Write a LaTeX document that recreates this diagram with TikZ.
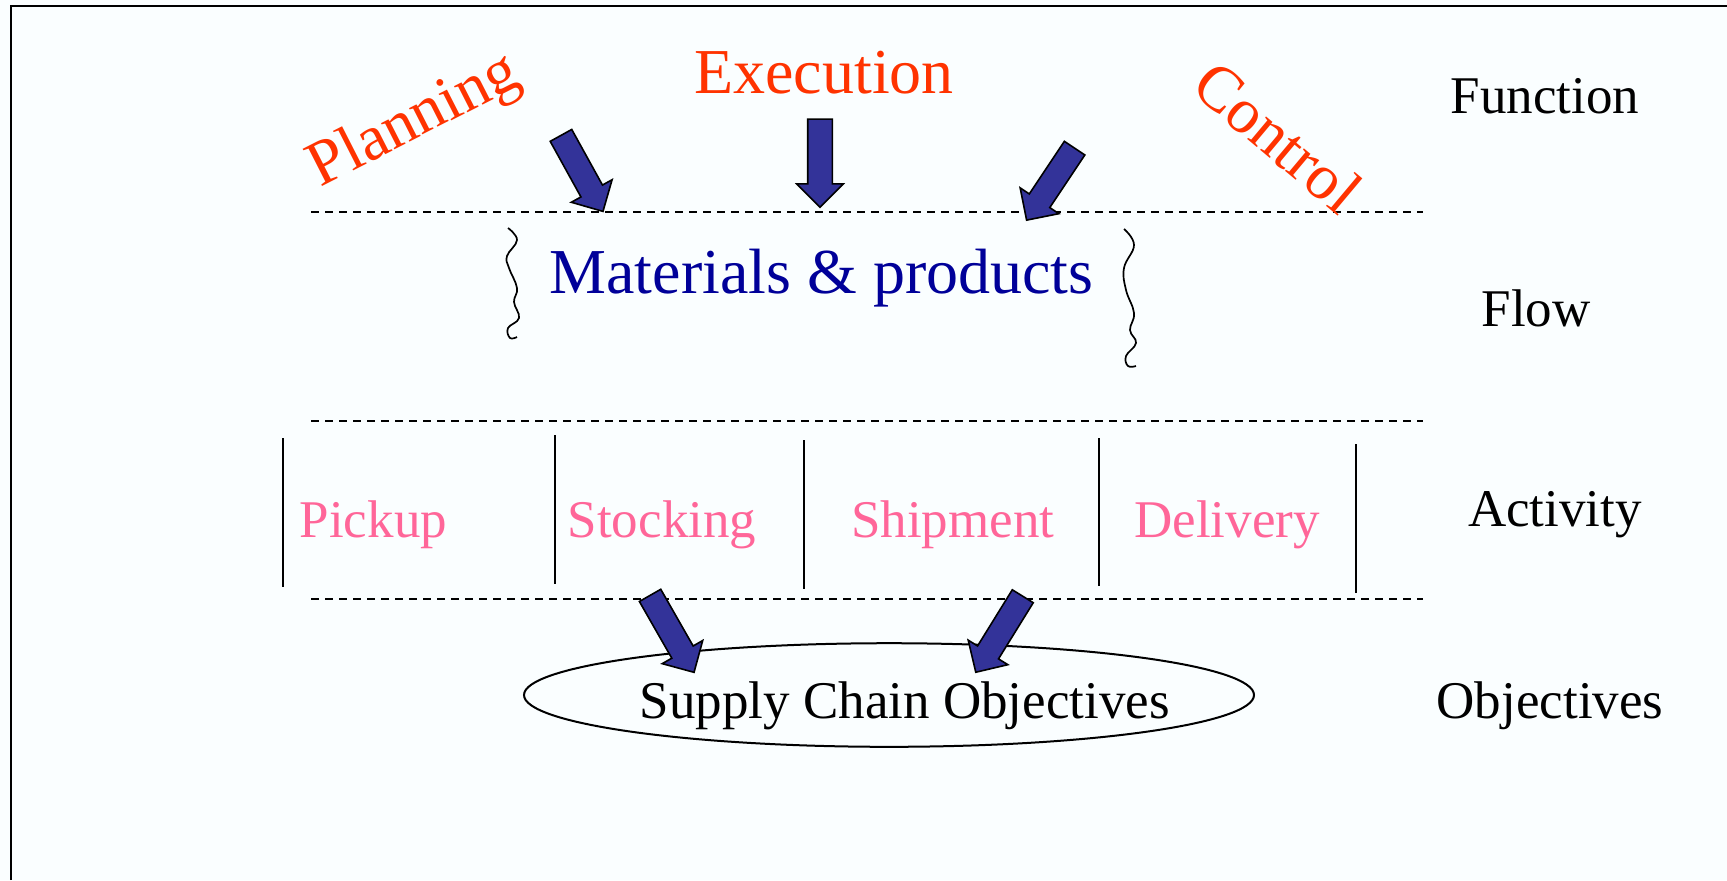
\documentclass[tikz,border=0pt]{standalone}
\usepackage{fontspec}
\setmainfont{Liberation Serif}
\usetikzlibrary{shapes.arrows,shapes.geometric,calc}
\definecolor{bgc}{RGB}{250,254,255}
\definecolor{redtxt}{RGB}{255,51,0}
\definecolor{bluetxt}{RGB}{0,0,153}
\definecolor{pinktxt}{RGB}{255,102,153}
\definecolor{arrowblue}{RGB}{51,51,153}
\tikzset{
 func/.style={text=redtxt, font=\fontsize{32}{38}\selectfont, inner sep=0pt},
 lbl/.style={font=\fontsize{26.5}{32}\selectfont, inner sep=0pt, anchor=base},
 act/.style={lbl, text=pinktxt},
 divider/.style={dash pattern=on 4pt off 3pt, line width=0.9pt},
 sepline/.style={line width=1pt},
 squiggle/.style={line width=0.85pt},
 blockarr/.style={single arrow, draw=black, fill=arrowblue, line width=0.8pt,
   inner xsep=0pt, inner ysep=5.75pt, minimum width=22.5pt,
   single arrow head extend=5.5pt, single arrow head indent=0pt},
}
\newcommand{\blkarrow}[3]{%
 \path let \p1=($(#3)-(#2)$), \n1={atan2(\y1,\x1)}, \n2={veclen(\x1,\y1)} in
   node[blockarr, rotate=\n1, minimum height=\n2] (#1) at ($(#2)!0.5!(#3)$) {};
}
\begin{document}
\begin{tikzpicture}[x=0.5pt,y=-0.5pt]
\useasboundingbox (0,0) rectangle (1727,880);
\fill[bgc] (0,0) rectangle (1727,880);
\draw[line width=1pt] (11,880) -- (11,6) -- (1727,6);

% dashed dividers
\coordinate (d1l) at (311,212); \coordinate (d1r) at (1423,212);
\coordinate (d2l) at (311,421); \coordinate (d2r) at (1423,421);
\coordinate (d3l) at (311,599); \coordinate (d3r) at (1423,599);
\draw[divider] (d1l) -- (d1r);
\draw[divider] (d2l) -- (d2r);
\draw[divider] (d3l) -- (d3r);

% function words
\node[func, rotate=27] (plan) at (415,122) {Planning};
\node[func, anchor=base] (exec) at (824,93.6) {Execution};
\node[func, rotate=-40] (ctrl) at (1278,137) {Control};

% right labels
\node[lbl] (lfun) at (1545,113) {Function};
\node[lbl] (lflow) at (1536,326) {Flow};
\node[lbl] (lact) at (1555,526.5) {Activity};
\node[lbl] (lobj) at (1550,718) {Objectives};

% flow
\node[lbl, font=\fontsize{32}{38}\selectfont, text=bluetxt] (mat) at (821.6,293) {Materials \& products};
\draw[squiggle] plot[smooth, tension=0.7] coordinates {(508,228) (517,240) (507,256) (509,268) (517,288) (514,302) (519,318) (508,328) (510,338) (517,337)};
\draw[squiggle] plot[smooth, tension=0.7] coordinates {(1124,229) (1134,245) (1124,268) (1126,290) (1134,313) (1130,330) (1136,343) (1126,356) (1128,366) (1136,366)};

% activities
\node[act] (pick) at (373.4,537.5) {Pickup};
\node[act] (stock) at (662,537.5) {Stocking};
\node[act] (ship) at (952.7,537.5) {Shipment};
\node[act] (deliv) at (1227,537.5) {Delivery};
\coordinate (s1t) at (283,438); \coordinate (s1b) at (283,587);
\coordinate (s2t) at (555,435); \coordinate (s2b) at (555,584);
\coordinate (s3t) at (804,440); \coordinate (s3b) at (804,589);
\coordinate (s4t) at (1099,438); \coordinate (s4b) at (1099,586);
\coordinate (s5t) at (1356,444); \coordinate (s5b) at (1356,593);
\draw[sepline] (s1t) -- (s1b);
\draw[sepline] (s2t) -- (s2b);
\draw[sepline] (s3t) -- (s3b);
\draw[sepline] (s4t) -- (s4b);
\draw[sepline] (s5t) -- (s5b);

% objectives
\node[draw, ellipse, line width=1pt, minimum width=365pt, minimum height=51.8pt, inner sep=0pt] (goal) at (889,695) {};
\node[lbl] (goaltxt) at (904.8,718) {Supply Chain Objectives};

% block arrows
\coordinate (a1s) at (558,130); \coordinate (a1e) at (600,206);
\coordinate (a2s) at (820,113); \coordinate (a2e) at (820,201);
\coordinate (a3s) at (1078,143); \coordinate (a3e) at (1030,215);
\coordinate (a4s) at (647,590); \coordinate (a4e) at (691,667);
\coordinate (a5s) at (1026,591); \coordinate (a5e) at (979,667);
\blkarrow{arr1}{a1s}{a1e}
\blkarrow{arr2}{a2s}{a2e}
\blkarrow{arr3}{a3s}{a3e}
\blkarrow{arr4}{a4s}{a4e}
\blkarrow{arr5}{a5s}{a5e}
\end{tikzpicture}
\end{document}
